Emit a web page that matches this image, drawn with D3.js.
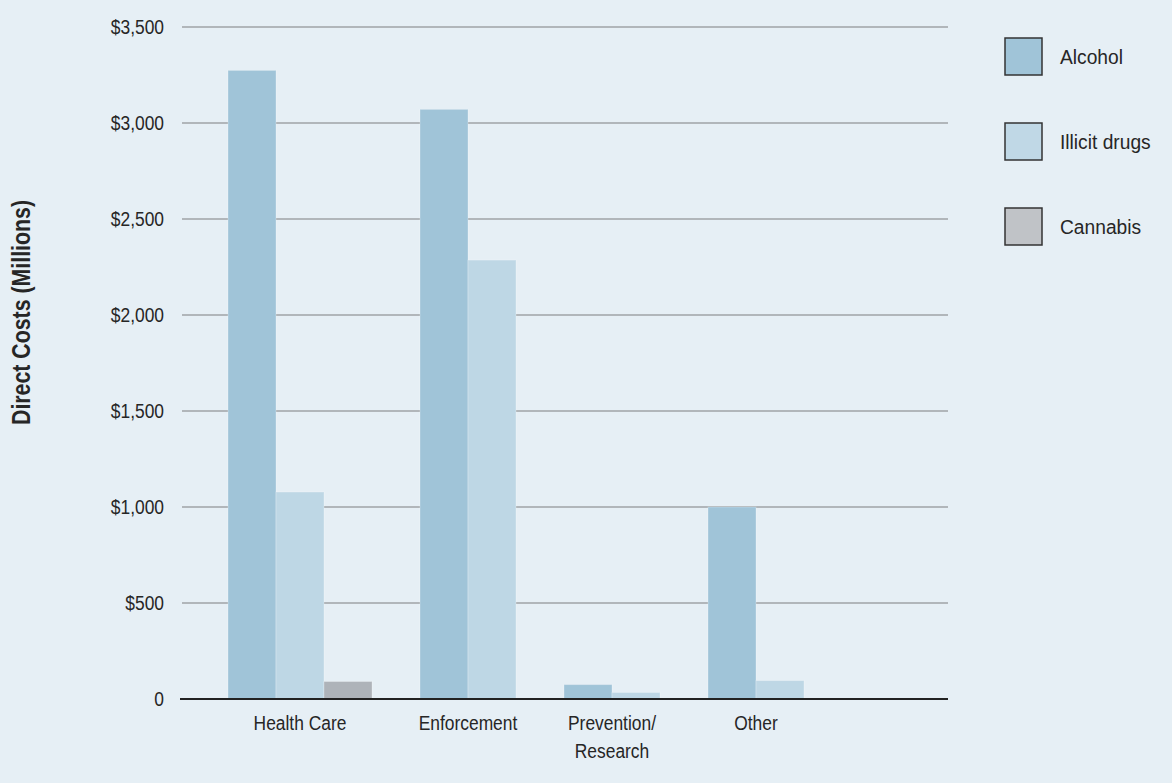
<!DOCTYPE html>
<html>
<head>
<meta charset="utf-8">
<script src="https://cdn.jsdelivr.net/npm/d3@7"></script>
<style>
  html, body { margin: 0; padding: 0; background: #e6eff5; }
  svg { display: block; }
  text { font-family: "Liberation Sans", Arial, sans-serif; fill: #262626; }
</style>
</head>
<body>
<script>
const categories = ["Health Care", "Enforcement", "Prevention/\nResearch", "Other"];
const seriesNames = ["Alcohol", "Illicit drugs", "Cannabis"];
const alcohol = [3274, 3071, 75, 1000];
const illicitDrugs = [1078, 2286, 34, 96];
const cannabis = [91, null, null, null];
const yTicks = [0, 500, 1000, 1500, 2000, 2500, 3000, 3500];
const yTitle = "Direct Costs (Millions)";

const seriesValues = [alcohol, illicitDrugs, cannabis];
const barColors = ["#a0c4d8", "#bed7e5", "#aeb3b9"];
const legendColors = ["#a0c4d8", "#c0d8e6", "#c0c3c7"];

const W = 1172, H = 783;
const margin = { left: 180, right: 224, top: 27, bottom: 84 };
const condense = "scale(0.87,1)";

const svg = d3.select("body").append("svg").attr("width", W).attr("height", H);
svg.append("rect").attr("width", W).attr("height", H).attr("fill", "#e6eff5");

// Build slot list: each non-null bar takes a slot, one empty slot between groups
const slots = [];
const bars = [];
categories.forEach((c, ci) => {
  if (ci > 0) slots.push("gap" + ci);
  seriesValues.forEach((vals, si) => {
    if (vals[ci] !== null && vals[ci] !== undefined) {
      const id = ci + "-" + si;
      slots.push(id);
      bars.push({ id, ci, si, value: vals[ci] });
    }
  });
});

const x = d3.scaleBand()
  .domain(slots)
  .range([margin.left, W - margin.right])
  .paddingInner(0)
  .paddingOuter(2)
  .align(0.25);

const y = d3.scaleLinear().domain([0, 3500]).range([H - margin.bottom, margin.top]);

// y axis labels
const yAxis = d3.axisLeft(y).tickValues(yTicks)
  .tickFormat(d => d === 0 ? "0" : "$" + d3.format(",")(d))
  .tickSize(0).tickPadding(0);

const gAxis = svg.append("g").attr("transform", `translate(${margin.left - 16},0)`).call(yAxis);
gAxis.select(".domain").remove();
gAxis.selectAll("text")
  .attr("x", 0)
  .attr("font-size", 20)
  .attr("fill", "#262626")
  .attr("font-family", '"Liberation Sans", Arial, sans-serif')
  .attr("transform", condense);

// gridlines
svg.append("g").selectAll("line")
  .data(yTicks.filter(d => d !== 0))
  .join("line")
  .attr("x1", margin.left + 2).attr("x2", W - margin.right)
  .attr("y1", d => y(d)).attr("y2", d => y(d))
  .attr("stroke", "#9fa3a6").attr("stroke-width", 1.5);

// bars
svg.append("g").selectAll("rect")
  .data(bars)
  .join("rect")
  .attr("x", d => x(d.id))
  .attr("width", x.bandwidth())
  .attr("y", d => y(d.value))
  .attr("height", d => y(0) - y(d.value))
  .attr("fill", d => barColors[d.si])
  .attr("stroke", "rgba(255,255,255,0.25)")
  .attr("stroke-width", 1);

// baseline
svg.append("line")
  .attr("x1", margin.left).attr("x2", W - margin.right)
  .attr("y1", y(0)).attr("y2", y(0))
  .attr("stroke", "#222").attr("stroke-width", 2.2);

// category labels
categories.forEach((c, ci) => {
  const ids = bars.filter(b => b.ci === ci).map(b => b.id);
  const x0 = x(ids[0]);
  const x1 = x(ids[ids.length - 1]) + x.bandwidth();
  const cx = (x0 + x1) / 2;
  const lines = c.split("\n");
  const g = svg.append("g").attr("transform", `translate(${cx},${y(0) + 31})`);
  const t = g.append("text")
    .attr("text-anchor", "middle")
    .attr("font-size", 20)
    .attr("transform", condense);
  lines.forEach((l, li) => {
    t.append("tspan").attr("x", 0).attr("dy", li === 0 ? 0 : 28).text(l);
  });
});

// y title
svg.append("text")
  .attr("transform", `translate(30,${(200 + 425) / 2}) rotate(-90)`)
  .attr("text-anchor", "middle")
  .attr("font-size", 26)
  .attr("font-weight", "bold")
  .attr("fill", "#1a1a1a")
  .attr("textLength", 225)
  .attr("lengthAdjust", "spacingAndGlyphs")
  .text(yTitle);

// legend
const legend = svg.append("g");
const legendY = d3.scalePoint().domain(seriesNames).range([56.5, 226.5]);
seriesNames.forEach((s, i) => {
  legend.append("rect")
    .attr("x", 1005).attr("y", legendY(s) - 18.5)
    .attr("width", 37).attr("height", 37)
    .attr("fill", legendColors[i])
    .attr("stroke", "#333").attr("stroke-width", 1.5);
  const g = legend.append("g").attr("transform", `translate(1060,${legendY(s)})`);
  g.append("text")
    .attr("dy", "0.35em")
    .attr("font-size", 20)
    .attr("transform", "scale(0.96,1)")
    .text(s);
});
</script>
</body>
</html>
